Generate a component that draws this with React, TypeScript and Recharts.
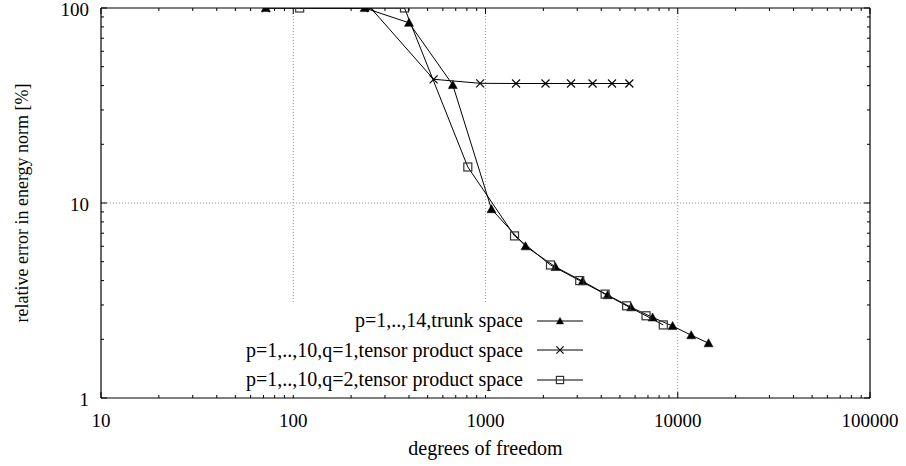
import { LineChart, Line, XAxis, YAxis, ReferenceLine, Legend } from "recharts";

// degrees of freedom / relative error [%]
const trunkDof = [72, 235, 400, 676, 1074, 1615, 2312, 3200, 4318, 5716, 7395, 9400, 11750, 14460];
const trunkErr = [100, 100, 84, 40.3, 9.3, 6.0, 4.7, 3.97, 3.37, 2.92, 2.59, 2.34, 2.1, 1.91];
const q1Dof = [72, 253, 537, 938, 1442, 2051, 2786, 3606, 4550, 5600];
const q1Err = [100, 100, 43.1, 41.1, 41.0, 41.0, 41.0, 41.0, 41.0, 41.0];
const q2Dof = [108, 379, 809, 1416, 2178, 3091, 4190, 5420, 6840, 8410];
const q2Err = [100, 100, 15.3, 6.78, 4.81, 4.0, 3.41, 2.97, 2.64, 2.37];

const seriesNames = [
  "p=1,..,14,trunk space",
  "p=1,..,10,q=1,tensor product space",
  "p=1,..,10,q=2,tensor product space",
];

const xMajor = [10, 100, 1000, 10000, 100000];
const yMajor = [1, 10, 100];
const xGrid = [100, 1000, 10000];
const yGrid = [10];

// minor log ticks 2..9 within each decade
const withMinor = (majors: number[]) => {
  const out: number[] = [];
  majors.forEach((m, i) => {
    out.push(m);
    if (i < majors.length - 1) for (let k = 2; k < 10; k++) out.push(m * k);
  });
  return out;
};
const xTicks = withMinor(xMajor);
const yTicks = withMinor(yMajor);

const toRows = (xs: number[], ys: number[]) => xs.map((d, i) => ({ dof: d, err: ys[i] }));
const trunkData = toRows(trunkDof, trunkErr);
const q1Data = toRows(q1Dof, q1Err);
const q2Data = toRows(q2Dof, q2Err);

const W = 906;
const H = 466;
const M = { top: 8, right: 36, bottom: 0, left: 0 };
const Y_AXIS_W = 101;
const X_AXIS_H = 68;
const PLOT_TOP = M.top;
const PLOT_BOTTOM = H - M.bottom - X_AXIS_H;
const PLOT_LEFT = M.left + Y_AXIS_W;
const PLOT_RIGHT = W - M.right;

const FONT = '"Liberation Serif", "Times New Roman", serif';
const INK = "#000";
const TICK_FS = 19;
const LABEL_FS = 20;

function Tri({ cx, cy, s = 4.5 }: any) {
  return (
    <polygon
      points={`${cx},${cy - s} ${cx - s},${cy + s * 0.8} ${cx + s},${cy + s * 0.8}`}
      fill={INK}
      stroke={INK}
      strokeWidth={0.5}
    />
  );
}

function Cross({ cx, cy, s = 4 }: any) {
  return (
    <g stroke={INK} strokeWidth={1.1}>
      <line x1={cx - s} y1={cy - s} x2={cx + s} y2={cy + s} />
      <line x1={cx - s} y1={cy + s} x2={cx + s} y2={cy - s} />
    </g>
  );
}

function Sq({ cx, cy, s = 4 }: any) {
  return <rect x={cx - s} y={cy - s} width={2 * s} height={2 * s} fill="none" stroke="#333" strokeWidth={1.2} />;
}

const markers = [Tri, Cross, Sq];

function XTick(props: any) {
  const { x, payload } = props;
  const v = payload.value;
  const major = xMajor.includes(v);
  const len = major ? 6 : 3;
  return (
    <g>
      <line x1={x} x2={x} y1={PLOT_BOTTOM} y2={PLOT_BOTTOM - len} stroke={INK} />
      <line x1={x} x2={x} y1={PLOT_TOP} y2={PLOT_TOP + len} stroke={INK} />
      {major && (
        <text x={x} y={PLOT_BOTTOM + 29} textAnchor="middle" fontFamily={FONT} fontSize={TICK_FS} fill={INK}>
          {v}
        </text>
      )}
    </g>
  );
}

function YTick(props: any) {
  const { y, payload } = props;
  const v = payload.value;
  const major = yMajor.includes(v);
  const len = major ? 6 : 3;
  return (
    <g>
      <line x1={PLOT_LEFT} x2={PLOT_LEFT + len} y1={y} y2={y} stroke={INK} />
      <line x1={PLOT_RIGHT} x2={PLOT_RIGHT - len} y1={y} y2={y} stroke={INK} />
      {major && (
        <text x={PLOT_LEFT - 12} y={y + 8} textAnchor="end" fontFamily={FONT} fontSize={TICK_FS} fill={INK}>
          {v}
        </text>
      )}
    </g>
  );
}

function KeyBox({ payload }: any) {
  const items = [...(payload || [])].sort(
    (a: any, b: any) => seriesNames.indexOf(a.value) - seriesNames.indexOf(b.value)
  );
  return (
    <div style={{ background: "#fff", paddingTop: 2, paddingRight: 2 }}>
      {items.map((it: any) => {
        const Mk = markers[seriesNames.indexOf(it.value)];
        return (
          <div
            key={it.value}
            style={{
              display: "flex",
              justifyContent: "flex-end",
              alignItems: "center",
              height: 29.5,
              fontFamily: FONT,
              fontSize: LABEL_FS,
              color: INK,
              whiteSpace: "nowrap",
            }}
          >
            <span>{it.value}</span>
            <svg width={46} height={14} style={{ marginLeft: 14 }}>
              <line x1={0} x2={46} y1={7} y2={7} stroke={INK} strokeWidth={1} />
              <Mk cx={23} cy={7} s={3.6} />
            </svg>
          </div>
        );
      })}
    </div>
  );
}

const dot = (Mk: any) => (p: any) => <Mk key={`m-${p.index}`} cx={p.cx} cy={p.cy} />;

export default function App() {
  return (
    <div style={{ position: "absolute", left: 0, top: 0, background: "#fff" }}>
      <LineChart width={W} height={H} margin={M}>
        <XAxis
          dataKey="dof"
          type="number"
          scale="log"
          domain={[10, 100000]}
          allowDataOverflow
          ticks={xTicks}
          interval={0}
          tick={<XTick />}
          tickLine={false}
          tickSize={0}
          height={X_AXIS_H}
          axisLine={{ stroke: INK, strokeWidth: 1.2 }}
          label={{
            content: ({ viewBox }: any) => (
              <text
                x={viewBox.x + viewBox.width / 2}
                y={viewBox.y + 57}
                textAnchor="middle"
                fontFamily={FONT}
                fontSize={LABEL_FS}
                fill={INK}
              >
                degrees of freedom
              </text>
            ),
          }}
        />
        <YAxis
          dataKey="err"
          type="number"
          scale="log"
          domain={[1, 100]}
          allowDataOverflow
          ticks={yTicks}
          interval={0}
          tick={<YTick />}
          tickLine={false}
          tickSize={0}
          width={Y_AXIS_W}
          axisLine={{ stroke: INK, strokeWidth: 1.2 }}
          label={{
            content: ({ viewBox }: any) => {
              const cx = viewBox.x + 28;
              const cy = viewBox.y + viewBox.height / 2;
              return (
                <text
                  x={cx}
                  y={cy}
                  transform={`rotate(-90, ${cx}, ${cy})`}
                  textAnchor="middle"
                  fontFamily={FONT}
                  fontSize={18}
                  fill={INK}
                >
                  relative error in energy norm [%]
                </text>
              );
            },
          }}
        />
        {xGrid.map((v) => (
          <ReferenceLine key={`gx${v}`} x={v} stroke="#999" strokeDasharray="1 2" />
        ))}
        {yGrid.map((v) => (
          <ReferenceLine key={`gy${v}`} y={v} stroke="#999" strokeDasharray="1 2" />
        ))}
        <ReferenceLine y={100} stroke={INK} strokeWidth={1.2} />
        <ReferenceLine x={100000} stroke={INK} strokeWidth={1.2} />
        <Legend
          layout="vertical"
          align="center"
          verticalAlign="middle"
          content={<KeyBox />}
          wrapperStyle={{ left: 240, top: 304, width: 345, height: 90 }}
        />
        <Line
          name={seriesNames[0]}
          data={trunkData}
          dataKey="err"
          type="linear"
          stroke={INK}
          strokeWidth={1}
          dot={dot(Tri)}
          activeDot={false}
          isAnimationActive={false}
        />
        <Line
          name={seriesNames[1]}
          data={q1Data}
          dataKey="err"
          type="linear"
          stroke={INK}
          strokeWidth={1}
          dot={dot(Cross)}
          activeDot={false}
          isAnimationActive={false}
        />
        <Line
          name={seriesNames[2]}
          data={q2Data}
          dataKey="err"
          type="linear"
          stroke={INK}
          strokeWidth={1}
          dot={dot(Sq)}
          activeDot={false}
          isAnimationActive={false}
        />
      </LineChart>
    </div>
  );
}
